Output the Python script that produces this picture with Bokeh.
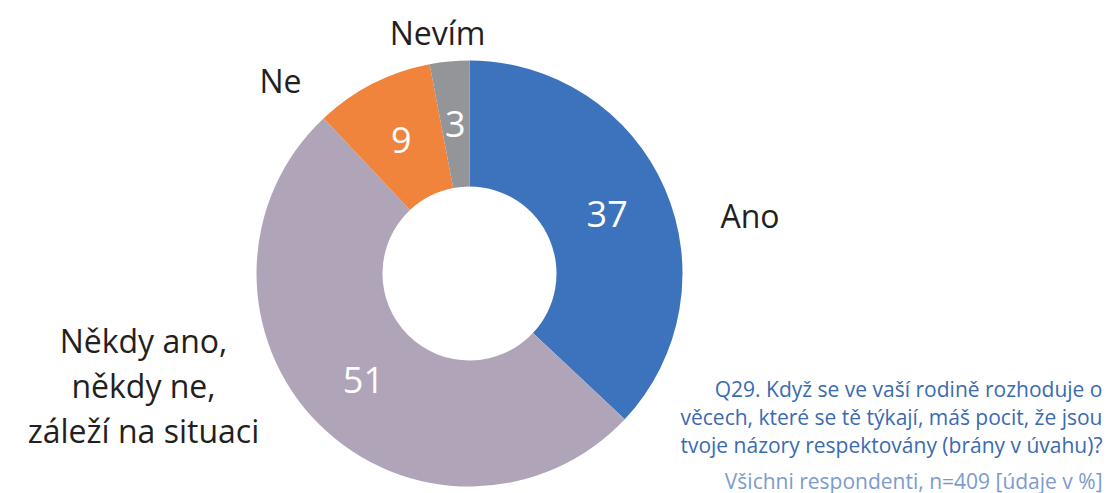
import numpy as np
from bokeh.plotting import figure
from bokeh.models import Range1d, ColumnDataSource
from bokeh.core.properties import value
from bokeh.embed import file_html
from bokeh.resources import INLINE

categories = ["Ano", "Někdy ano,\nněkdy ne,\nzáleží na situaci", "Ne", "Nevím"]
values = [37, 51, 9, 3]
colors = ["#3D73BC", "#B0A4B9", "#F0843C", "#939598"]
caption_lines = [
    "Q29. Když se ve vaší rodině rozhoduje o",
    "věcech, které se tě týkají, máš pocit, že jsou",
    "tvoje názory respektovány (brány v úvahu)?",
]
base_line = "Všichni respondenti, n=409 [údaje v %]"

W, H = 1112, 493
cx, cy = 469, H - 273
R_out, R_in = 213, 87

p = figure(width=W, height=H, output_backend="svg", toolbar_location=None,
           x_range=Range1d(0, W), y_range=Range1d(0, H), min_border=0)
p.axis.visible = False
p.grid.visible = False
p.outline_line_color = None
p.background_fill_color = "white"

vals = np.array(values, dtype=float)
frac = vals / vals.sum()
cum = np.concatenate([[0], np.cumsum(frac)])
start = np.pi / 2 - 2 * np.pi * cum[:-1]
end = np.pi / 2 - 2 * np.pi * cum[1:]
mid = (start + end) / 2

src = ColumnDataSource(dict(x=[cx] * len(values), y=[cy] * len(values),
                            start=start, end=end, color=colors))
p.annular_wedge(x="x", y="y", inner_radius=R_in, outer_radius=R_out,
                start_angle="start", end_angle="end", direction="clock",
                fill_color="color", line_color=None, source=src)

# value labels in ring centre
r_mid = (R_in + R_out) / 2
vsrc = ColumnDataSource(dict(x=cx + r_mid * np.cos(mid), y=cy + r_mid * np.sin(mid),
                             t=[str(v) for v in values]))
p.text(x="x", y="y", text="t", source=vsrc, text_align="center", text_baseline="middle",
       text_color="white", text_font=value("Open Sans"), text_font_size="36px")

# category labels (best-fit placement offsets from centre)
offsets = [(251, 58, "left"), (-326, -67, "center"), (-189, 193, "center"), (-32, 241, "center")]
line_gap = 45
for cat, (dx, dy, al) in zip(categories, offsets):
    for k, ln in enumerate(cat.split("\n")):
        p.text(x=[cx + dx], y=[cy + dy - k * line_gap], text=[ln], text_align=al,
               text_baseline="middle", text_color="#231F20",
               text_font=value("Open Sans"), text_font_size="32px")

# caption
for i, line in enumerate(caption_lines):
    p.text(x=[W - 10], y=[H - 388 - 28 * i], text=[line],
           text_align="right", text_baseline="alphabetic",
           text_color="#3A6BB0", text_font=value("Open Sans"), text_font_size="21px")
p.text(x=[W - 10], y=[H - 480], text=[base_line], text_align="right",
       text_baseline="alphabetic", text_color="#7C9BCB",
       text_font=value("Open Sans"), text_font_size="21px")

open("out.html", "w").write(file_html(p, INLINE))
